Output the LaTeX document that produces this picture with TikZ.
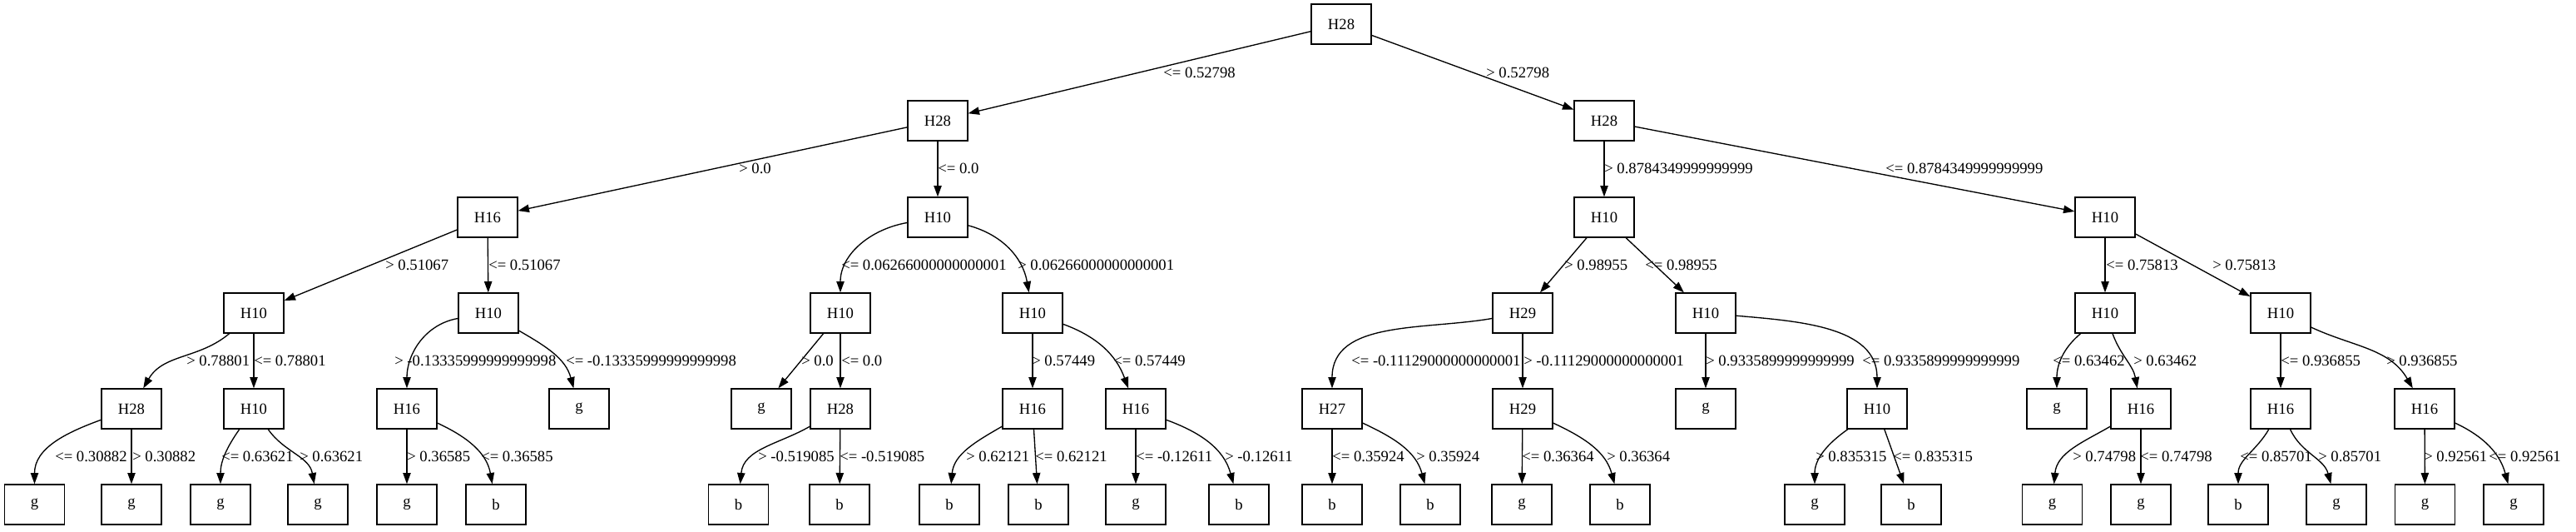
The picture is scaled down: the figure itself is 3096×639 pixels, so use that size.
\documentclass[tikz,border=0pt]{standalone}
\usepackage{fontspec}
\setmainfont{Liberation Serif}
\usetikzlibrary{arrows.meta}

\begin{document}
\begin{tikzpicture}[x=0.75pt,y=-0.75pt,
    box/.style={draw,line width=1pt,minimum width=54pt,minimum height=36pt,
      inner sep=0pt,font=\fontsize{14pt}{16pt}\selectfont},
    edge/.style={line width=1pt,-{Triangle[length=10pt,width=7pt]}},
    lbl/.style={anchor=west,inner sep=0pt,font=\fontsize{14pt}{16pt}\selectfont}]
  \useasboundingbox (0,0) rectangle (3096,639);
  % splits
  \foreach \n/\x/\y/\lab in {t/1612/29/H28,
                             tl/1127/145/H28, tr/1928/145/H28,
                             tll/586/261/H16, tlr/1127/261/H10, trl/1928/261/H10, trr/2530/261/H10,
                             tlll/305/376/H10, tllr/587/376/H10, tlrl/1010/376/H10, tlrr/1241/376/H10,
                             trll/1830/376/H29, trlr/2050/376/H10, trrl/2530/376/H10, trrr/2741/376/H10,
                             tllll/158/491/H28, tlllr/305/491/H10, tllrl/489/491/H16, tllrr/696/491/g,
                             tlrll/915/491/g, tlrlr/1010/491/H28, tlrrl/1241/491/H16, tlrrr/1365/491/H16,
                             trlll/1601/491/H27, trllr/1830/491/H29, trlrl/2050/491/g, trlrr/2256/491/H10,
                             trrll/2472/491/g, trrlr/2573/491/H16, trrrl/2741/491/H16, trrrr/2914/491/H16} {
    \node[box] (\n) at (\x,\y) {\lab};
  }
  % leaves
  \foreach \n/\x/\lab in {tlllll/41.5/g, tllllr/158/g, tlllrl/265/g, tlllrr/382/g,
                          tllrll/489/g, tllrlr/596/b, tlrlrl/887.5/b, tlrlrr/1009/b,
                          tlrrll/1141/b, tlrrlr/1248/b, tlrrrl/1365/g, tlrrrr/1489/b,
                          trllll/1601/b, trlllr/1719/b, trllrl/1829/g, trllrr/1947/b,
                          trlrrl/2181/g, trlrrr/2297/b, trrlrl/2466.5/g, trrlrr/2573/g,
                          trrrll/2690/b, trrrlr/2808/g, trrrrl/2914.5/g, trrrrr/3021/g} {
    \node[box] (\n) at (\x,606) {\lab};
  }
  % straight edges
  \foreach \a/\b/\lx/\ly/\lab in {t/tl/1398/87/{<= 0.52798}, t/tr/1786/87/{> 0.52798},
                                  tl/tll/888/202/{> 0.0}, tl/tlr/1127/202/{<= 0.0},
                                  tr/trl/1928/202/{> 0.8784349999999999},
                                  tr/trr/2266/202/{<= 0.8784349999999999},
                                  tll/tlll/463/318/{> 0.51067}, tll/tllr/587/318/{<= 0.51067},
                                  trl/trll/1880/318/{> 0.98955}, trl/trlr/1977/318/{<= 0.98955},
                                  trr/trrl/2531/318/{<= 0.75813}, trr/trrr/2659/318/{> 0.75813},
                                  tlll/tlllr/305/433/{<= 0.78801}, tlrl/tlrll/963/433/{> 0.0},
                                  tlrl/tlrlr/1011/433/{<= 0.0}, tlrr/tlrrl/1240/433/{> 0.57449},
                                  trll/trllr/1831/433/{> -0.11129000000000001},
                                  trlr/trlrl/2050/433/{> 0.9335899999999999},
                                  trrr/trrrl/2741/433/{<= 0.936855},
                                  tllll/tllllr/159/548/{> 0.30882}, tllrl/tllrll/489/548/{> 0.36585},
                                  tlrlr/tlrlrr/1009/548/{<= -0.519085}, tlrrl/tlrrlr/1244/548/{<= 0.62121},
                                  tlrrr/tlrrrl/1365/548/{<= -0.12611}, trlll/trllll/1601/548/{<= 0.35924},
                                  trllr/trllrl/1829/548/{<= 0.36364}, trlrr/trlrrr/2275/548/{<= 0.835315},
                                  trrlr/trrlrr/2572/548/{<= 0.74798}, trrrr/trrrrl/2913/548/{> 0.92561}} {
    \draw[edge] (\a) -- (\b);
    \node[lbl] (e\b) at (\lx,\ly) {\lab};
  }
  % curved edges
  \foreach \a/\b/\o/\i/\lx/\ly/\lab in {tlr/tlrl/190/90/1011/318/{<= 0.06266000000000001},
                                        tlr/tlrr/-15/100/1223/318/{> 0.06266000000000001},
                                        tlll/tllll/220/60/224/433/{> 0.78801},
                                        tllr/tllrl/190/90/474/433/{> -0.13335999999999998},
                                        tllr/tllrr/-30/105/680/433/{<= -0.13335999999999998},
                                        tlrr/tlrrr/-20/110/1338/433/{<= 0.57449},
                                        trll/trlll/190/90/1624/433/{<= -0.11129000000000001},
                                        trlr/trlrr/-5/90/2238/433/{<= 0.9335899999999999},
                                        trrl/trrll/220/90/2467/433/{<= 0.63462},
                                        trrl/trrlr/-70/100/2564/433/{> 0.63462},
                                        trrr/trrrr/-25/120/2868/433/{> 0.936855},
                                        tllll/tlllll/200/90/66/548/{<= 0.30882},
                                        tlllr/tlllrl/235/90/266/548/{<= 0.63621},
                                        tlllr/tlllrr/-55/100/360/548/{> 0.63621},
                                        tllrl/tllrlr/-25/100/578/548/{<= 0.36585},
                                        tlrlr/tlrlrl/210/85/911/548/{> -0.519085},
                                        tlrrl/tlrrll/210/85/1161/548/{> 0.62121},
                                        tlrrr/tlrrrr/-20/105/1472/548/{> -0.12611},
                                        trlll/trlllr/-25/105/1702/548/{> 0.35924},
                                        trllr/trllrr/-25/105/1931/548/{> 0.36364},
                                        trlrr/trlrrl/215/90/2182/548/{> 0.835315},
                                        trrlr/trrlrl/210/85/2491/548/{> 0.74798},
                                        trrrl/trrrll/240/90/2692/548/{<= 0.85701},
                                        trrrl/trrrlr/-65/105/2786/548/{> 0.85701},
                                        trrrr/trrrrr/-25/105/2991/548/{<= 0.92561}} {
    \draw[edge] (\a) to[out=\o,in=\i] (\b);
    \node[lbl] (e\b) at (\lx,\ly) {\lab};
  }
\end{tikzpicture}
\end{document}
